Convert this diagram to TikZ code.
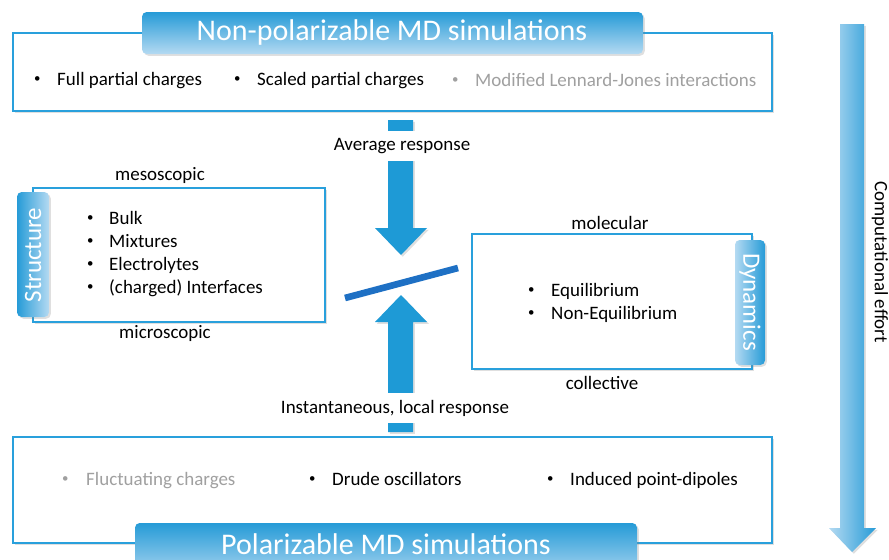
\documentclass[tikz,border=0pt]{standalone}
\usepackage{fontspec}
\setmainfont{Carlito}
\usetikzlibrary{shadows}

\definecolor{boxblue}{RGB}{41,160,220}
\definecolor{arrowblue}{RGB}{30,154,214}
\definecolor{barblue}{RGB}{30,112,196}
\definecolor{tabdark}{RGB}{38,155,215}
\definecolor{tablight}{RGB}{180,218,242}
\definecolor{greytext}{RGB}{160,160,160}

\tikzset{
    softshadow/.style={drop shadow={shadow xshift=1.5pt, shadow yshift=-1.5pt, opacity=0.25}},
    box/.style={draw=boxblue, line width=1.4pt, fill=white, softshadow},
    banner/.style={rounded corners=4pt, top color=tabdark, bottom color=tablight, softshadow},
    titletext/.style={text=white, inner sep=0pt, font=\fontsize{25.6}{30}\selectfont},
    tabtext/.style={text=white, inner sep=0pt, font=\fontsize{21.3}{25}\selectfont},
    body/.style={inner sep=0pt, font=\fontsize{16.2}{19}\selectfont},
    item/.style={body, anchor=base west},
    greyitem/.style={item, text=greytext},
    dot/.style={body, anchor=west, yshift=5pt, font=\fontsize{11}{12}\selectfont},
    greydot/.style={dot, text=greytext},
    arrowfill/.style={fill=arrowblue, softshadow}
}

\begin{document}
\begin{tikzpicture}[x=0.03cm, y=-0.03cm]
        \useasboundingbox (0,0) rectangle (889,560);
        \clip (0,0) rectangle (889,560);

        % Non-polarizable simulations (top)
        \draw[box] (13,33) rectangle (772,111);
        \shade[banner] (142,12) rectangle (643,54);
        \node[titletext] (nptitle) at (392,33) {Non-polarizable MD simulations};
        \node[dot] (npb1) at (34,85) {•};
        \node[item] (npfull) at (57,85) {Full partial charges};
        \node[dot] (npb2) at (234,85) {•};
        \node[item] (npscaled) at (257,85) {Scaled partial charges};
        \node[greydot] (npb3) at (452,86) {•};
        \node[greyitem] (nplj) at (475,86) {Modified Lennard-Jones interactions};

        % Polarizable simulations (bottom)
        \draw[box] (13,437) rectangle (772,543);
        \shade[banner] (135,523) rectangle (637,580);
        \node[titletext] (ptitle) at (386,544) {Polarizable MD simulations};
        \node[greydot] (pb1) at (62,485) {•};
        \node[greyitem] (pfluct) at (86,485) {Fluctuating charges};
        \node[dot] (pb2) at (309,485) {•};
        \node[item] (pdrude) at (332,485) {Drude oscillators};
        \node[dot] (pb3) at (547,485) {•};
        \node[item] (pdip) at (570,485) {Induced point-dipoles};

        % Structure
        \draw[box] (33,188) rectangle (325,322);
        \shade[banner, left color=tabdark, right color=tablight] (17,192) rectangle (49,317);
        \node[tabtext, rotate=90] (structure) at (33,255) {Structure};
        \node[body] (meso) at (160,175) {mesoscopic};
        \node[body] (micro) at (165,333) {microscopic};
        \foreach \t [count=\i, evaluate=\i as \y using {201+23*\i}] in {Bulk, Mixtures, Electrolytes, {(charged) Interfaces}} {
            \node[dot] (sb\i) at (87,\y) {•};
            \node[item] (s\i) at (109,\y) {\t};
        }

        % Dynamics
        \draw[box] (472,234) rectangle (752,369);
        \shade[banner, left color=tablight, right color=tabdark] (735,240) rectangle (765,365);
        \node[tabtext, rotate=-90] (dynamics) at (750,302) {Dynamics};
        \node[body] (mol) at (610,223) {molecular};
        \node[body] (coll) at (602,383) {collective};
        \foreach \t [count=\i, evaluate=\i as \y using {273+23*\i}] in {Equilibrium, Non-Equilibrium} {
            \node[dot] (db\i) at (528,\y) {•};
            \node[item] (d\i) at (551,\y) {\t};
        }

        % Responses
        \fill[arrowfill] (388,120) -- (413,120) -- (413,228) -- (427,228) -- (401,255)
            -- (375,228) -- (388,228) -- cycle;
        \fill[arrowfill] (388,432) -- (413,432) -- (413,322) -- (427,322) -- (401,295)
            -- (375,322) -- (388,322) -- cycle;
        \node[body, fill=white, inner ysep=6pt] (avg) at (402,146) {Average response};
        \node[body, fill=white, inner ysep=6pt] (inst) at (395,408) {Instantaneous, local response};
        \draw[barblue, line width=0.2cm] (345,298) -- (458,268);

        % Computational effort
        \shade[left color=tablight, right color=tabdark, softshadow] (840,24) -- (864,24) -- (864,528)
            -- (876,528) -- (852,552) -- (829,528) -- (840,528) -- cycle;
        \node[body, rotate=-90] (effort) at (880,262) {Computational effort};
\end{tikzpicture}
\end{document}
